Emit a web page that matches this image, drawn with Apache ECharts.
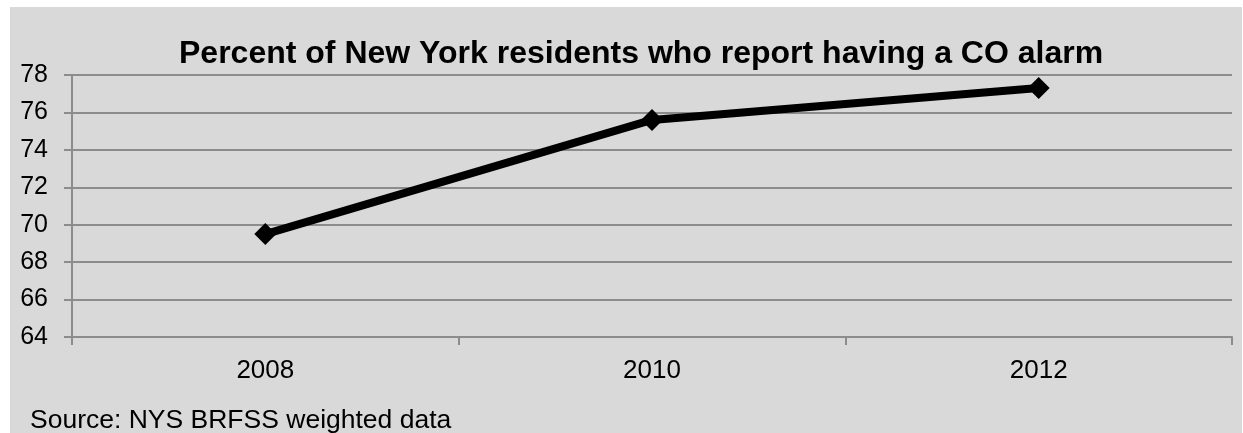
<!DOCTYPE html>
<html><head><meta charset="utf-8">
<script src="https://cdn.jsdelivr.net/npm/echarts@6/dist/echarts.min.js"></script>
<style>html,body{margin:0;padding:0;background:#fff;}#c{position:absolute;left:10px;top:7px;width:1232px;height:426px;}</style>
</head><body><div id="c"></div>
<script>
var categories = ['2008', '2010', '2012'];
var values = [69.5, 75.6, 77.3];
var yTicks = [64, 66, 68, 70, 72, 74, 76, 78];
var titleText = 'Percent of New York residents who report having a CO alarm';
var sourceText = 'Source: NYS BRFSS weighted data';

var chart = echarts.init(document.getElementById('c'), null, {renderer: 'canvas'});
chart.setOption({
  backgroundColor: '#d9d9d9',
  animation: false,
  title: {
    text: titleText, left: 164, top: 26,
    textStyle: {fontFamily: 'Liberation Sans, Arial, sans-serif', fontSize: 32, fontWeight: 'bold', color: '#000'}
  },
  graphic: [{
    type: 'text', left: 20, top: 400,
    style: {text: sourceText, font: '26.5px "Liberation Sans", Arial, sans-serif', fill: '#000'}
  }],
  grid: {left: 62, right: 10, top: 68, bottom: 96, containLabel: false},
  xAxis: {
    type: 'category', data: categories, boundaryGap: true,
    axisLine: {lineStyle: {color: '#8c8c8c', width: 2}},
    axisTick: {show: true, length: 8, lineStyle: {color: '#8c8c8c', width: 2}},
    axisLabel: {color: '#000', fontSize: 26, fontFamily: 'Liberation Sans, Arial, sans-serif', margin: 21}
  },
  yAxis: {
    type: 'value', min: yTicks[0], max: yTicks[yTicks.length - 1], interval: 2,
    axisLine: {show: true, lineStyle: {color: '#8c8c8c', width: 2}},
    axisTick: {show: true, length: 8, lineStyle: {color: '#8c8c8c', width: 2}},
    splitLine: {show: true, lineStyle: {color: '#8c8c8c', width: 2}},
    axisLabel: {color: '#000', fontSize: 25, fontFamily: 'Liberation Sans, Arial, sans-serif', margin: 24}
  },
  series: [{
    type: 'line', data: values,
    lineStyle: {color: '#000', width: 8},
    itemStyle: {color: '#000'},
    symbol: 'diamond', symbolSize: 22, showSymbol: true
  }]
});
</script></body></html>
